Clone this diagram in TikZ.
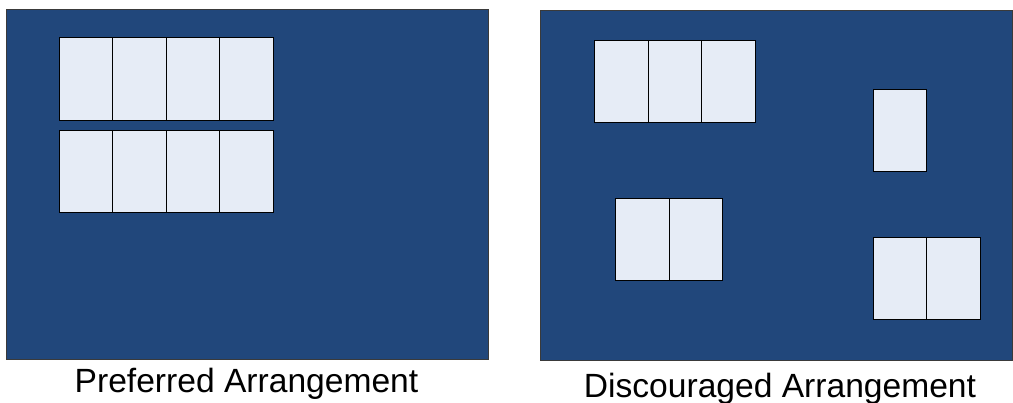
\documentclass[tikz,border=0pt]{standalone}
\usepackage{fontspec}
\setmainfont{Liberation Sans}
\definecolor{panelblue}{HTML}{21477B}
\definecolor{cellfill}{HTML}{E6ECF6}
\definecolor{edgegray}{HTML}{3A3A3A}
\begin{document}
\begin{tikzpicture}[x=1pt,y=-1pt,
  panel/.style={fill=panelblue,draw=edgegray,line width=0.8pt},
  cell/.style={fill=cellfill,draw=black,line width=0.9pt},
  caption/.style={font=\fontsize{33.6}{36}\selectfont,anchor=base,inner sep=0pt}]
\useasboundingbox (0,0) rectangle (1013,402);
% left panel
\path[panel] (6,9) rectangle (488,359);
\foreach \i in {0,1,2,3}{
  \path[cell] ({59.3+53.5*\i},37.7) rectangle ({59.3+53.5*(\i+1)},120);
  \path[cell] ({59.3+53.5*\i},130) rectangle ({59.3+53.5*(\i+1)},212.3);
}
\node[caption] (capL) at (246.5,392) {Preferred Arrangement};
% right panel
\path[panel] (540.7,10.7) rectangle (1012.5,360.7);
\foreach \i in {0,1,2}{
  \path[cell] ({594.7+53.5*\i},40) rectangle ({594.7+53.5*(\i+1)},122.3);
}
\path[cell] (873,89) rectangle (926.3,171.3);
\foreach \i in {0,1}{
  \path[cell] ({615.7+53.6*\i},198.3) rectangle ({615.7+53.6*(\i+1)},280.3);
  \path[cell] ({873+53.5*\i},237.3) rectangle ({873+53.5*(\i+1)},319.3);
}
\node[caption] (capR) at (780,397.5) {Discouraged Arrangement};
\end{tikzpicture}
\end{document}
